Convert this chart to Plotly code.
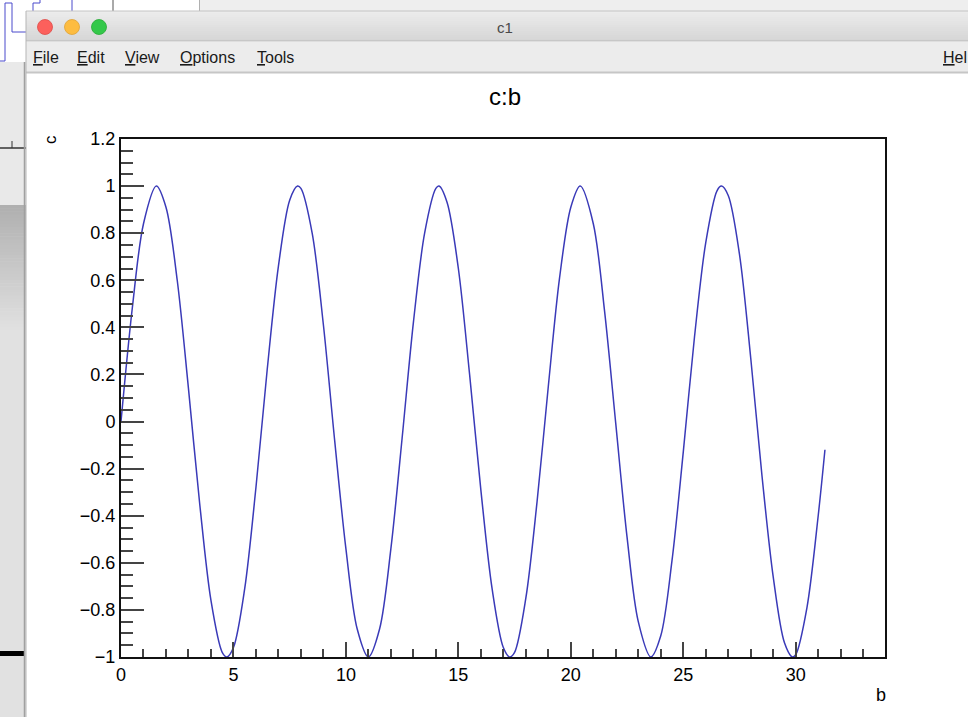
import plotly.graph_objects as go

# Sampled tree values: branch b and branch c (extremes included)
b_vals = [0.0, 0.5, 1.0, 1.57, 2.0, 2.5, 3.0, 3.5, 4.0, 4.5, 4.71, 5.0, 5.5, 6.0,
          6.5, 7.0, 7.5, 7.85, 8.0, 8.5, 9.0, 9.5, 10.0, 10.5, 11.0, 11.5, 12.0,
          12.5, 13.0, 13.5, 14.0, 14.14, 14.5, 15.0, 15.5, 16.0, 16.5, 17.0,
          17.28, 17.5, 18.0, 18.5, 19.0, 19.5, 20.0, 20.42, 21.0, 21.5, 22.0,
          22.5, 23.0, 23.56, 24.0, 24.5, 25.0, 25.5, 26.0, 26.5, 26.70, 27.0,
          27.5, 28.0, 28.5, 29.0, 29.5, 29.85, 30.0, 30.5, 31.0, 31.3]
c_vals = [0.00, 0.48, 0.84, 1.00, 0.91, 0.60, 0.14, -0.35, -0.76, -0.98, -1.00,
          -0.96, -0.71, -0.28, 0.22, 0.66, 0.94, 1.00, 0.99, 0.80, 0.41, -0.08,
          -0.54, -0.88, -1.00, -0.88, -0.54, -0.07, 0.42, 0.80, 0.99, 1.00, 0.93,
          0.65, 0.20, -0.29, -0.71, -0.96, -1.00, -0.98, -0.75, -0.34, 0.15, 0.61,
          0.91, 1.00, 0.84, 0.47, -0.01, -0.49, -0.85, -1.00, -0.91, -0.59, -0.13,
          0.36, 0.76, 0.98, 1.00, 0.96, 0.71, 0.27, -0.23, -0.66, -0.94, -1.00,
          -0.99, -0.79, -0.40, -0.12]

x_ticks = [0, 5, 10, 15, 20, 25, 30]
y_ticks = [-1, -0.8, -0.6, -0.4, -0.2, 0, 0.2, 0.4, 0.6, 0.8, 1, 1.2]
menu_items = ["File", "Edit", "View", "Options", "Tools"]

W, H = 968, 717
L, R, T, B = 121, 885, 139, 657
PW, PH = R - L, B - T


def px(x):
    return (x - L) / PW


def py(y):
    return (B - y) / PH


shapes = []


def rect(x0, y0, x1, y1, color, line=None):
    shapes.append(dict(type="rect", xref="paper", yref="paper",
                       x0=px(x0), x1=px(x1), y0=py(y0), y1=py(y1),
                       fillcolor=color, line=dict(width=0) if line is None else line,
                       layer="above"))


def seg(x0, y0, x1, y1, color, width=1):
    shapes.append(dict(type="line", xref="paper", yref="paper",
                       x0=px(x0), x1=px(x1), y0=py(y0), y1=py(y1),
                       line=dict(color=color, width=width), layer="above"))


def band(x0, x1, y0, y1, c0, c1, n):
    # vertical grey gradient built from thin strips
    for i in range(n):
        t = i / max(n - 1, 1)
        v = round(c0 + (c1 - c0) * t)
        ya = y0 + (y1 - y0) * i / n
        yb = y0 + (y1 - y0) * (i + 1) / n + 0.6
        rect(x0, ya, x1, yb, f"rgb({v},{v},{v})")


# background window on the left / top
rect(0, 0, 200, 62, "white")
rect(200, 0, W, 11, "#eeeeee")
seg(199.5, 0, 199.5, 11, "#b0b0b0", 1)
seg(113, 0, 113, 11, "#555555", 1)
rect(0, 62, 26, 205, "#e9e9e9")
band(0, 26, 205, 330, 176, 224, 40)
rect(0, 330, 26, H, "#e1e1e1")
seg(0, 148, 26, 148, "#333333", 1.5)
seg(12, 141, 12, 148, "#333333", 1)
rect(0, 651, 25, 656, "#000000")
seg(24.5, 62, 24.5, H, "#a0a0a0", 1.5)
blue = "#4a4acc"
for (xa, ya, xb, yb) in [(0, 61, 5, 61), (5, 61, 5, 3), (5, 3, 12, 3), (12, 3, 12, 32),
                         (12, 32, 26, 32), (33, 3, 33, 11), (33, 3, 40, 3), (40, 3, 40, 0),
                         (72, 0, 72, 11)]:
    seg(xa, ya, xb, yb, blue, 1)

# canvas window chrome
band(26, W, 11, 41, 236, 214, 15)
seg(26, 11, W, 11, "#c4c4c4", 1)
seg(26, 41, W, 41, "#b8b8b8", 1)
rect(26, 41.5, W, 72, "#ececec")
seg(26, 72.5, W, 72.5, "#c6c6c6", 2)
seg(26, 11, 26, H, "#b5b5b5", 1)

for cx, col, edge in [(45, "#fc605c", "#de4a46"), (72, "#fdbc40", "#dea236"),
                      (99, "#34c84a", "#27aa35")]:
    shapes.append(dict(type="circle", xref="paper", yref="paper",
                       x0=px(cx - 7.5), x1=px(cx + 7.5), y0=py(27 + 7.5), y1=py(27 - 7.5),
                       fillcolor=col, line=dict(color=edge, width=0.8), layer="above"))

annotations = []


def text(x, y, s, size, color="#000000", xanchor="center", yanchor="middle", angle=0,
         family="Liberation Sans, Arial, sans-serif"):
    annotations.append(dict(x=px(x), y=py(y), xref="paper", yref="paper", text=s,
                            showarrow=False, xanchor=xanchor, yanchor=yanchor,
                            textangle=angle, font=dict(size=size, color=color, family=family)))


text(505, 27, "c1", 15, "#4a4a4a")
menu_x = [31, 75, 123, 178, 255]
for mx, item in zip(menu_x, menu_items):
    text(mx, 57, f"<u>{item[0]}</u>{item[1:]}", 16, "#1a1a1a", xanchor="left")
text(941, 57, "<u>H</u>el", 16, "#1a1a1a", xanchor="left")

# histogram title and axis titles
text(505, 96, "c:b", 24)
text(50, 140, "c", 17, angle=-90)
text(881, 695, "b", 18)

fig = go.Figure(go.Scatter(x=b_vals, y=c_vals, mode="lines",
                           line=dict(color="#3a3ab8", width=1.5, shape="spline", smoothing=0.9),
                           hoverinfo="skip"))

tick_font = dict(size=18, color="#000000", family="Liberation Sans, Arial, sans-serif")
fig.update_xaxes(range=[0, 33.97], tickvals=x_ticks, ticktext=[str(v) for v in x_ticks],
                 ticks="inside", ticklen=15, tickwidth=1.5, tickcolor="#444444",
                 minor=dict(dtick=1, ticks="inside", ticklen=8, tickwidth=1.5, tickcolor="#444444"),
                 showline=True, linecolor="#111111", linewidth=2, mirror=True,
                 showgrid=False, zeroline=False, tickfont=tick_font)
fig.update_yaxes(range=[-1, 1.2], tickvals=y_ticks,
                 ticktext=[f"{v:g}".replace("-", "\u2212") for v in y_ticks],
                 ticks="inside", ticklen=23, tickwidth=1.5, tickcolor="#444444",
                 minor=dict(dtick=0.05, ticks="inside", ticklen=12, tickwidth=1.5, tickcolor="#444444"),
                 showline=True, linecolor="#111111", linewidth=2, mirror=True,
                 showgrid=False, zeroline=False, tickfont=tick_font)

fig.update_layout(width=W, height=H, autosize=False,
                  margin=dict(l=L, r=W - R, t=T, b=H - B, pad=0),
                  paper_bgcolor="white", plot_bgcolor="white",
                  showlegend=False, shapes=shapes, annotations=annotations)

fig.write_html("out.html", config={"displayModeBar": False})
